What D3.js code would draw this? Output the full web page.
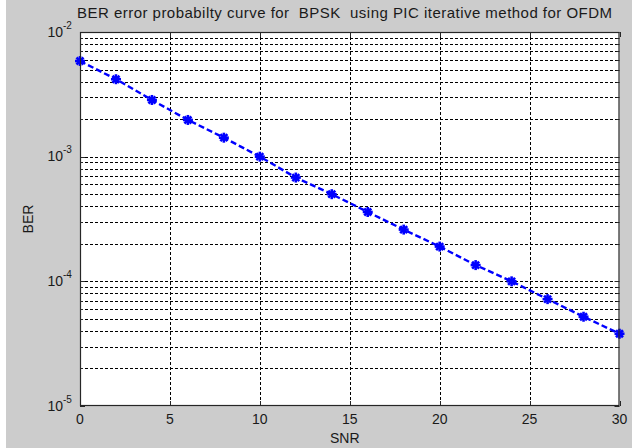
<!DOCTYPE html>
<html>
<head>
<meta charset="utf-8">
<script src="https://cdn.jsdelivr.net/npm/d3@7"></script>
<style>
  body { margin: 0; background: #fff; }
  svg { display: block; }
  text { font-family: Arial, "Liberation Sans", sans-serif; fill: #1a1a1a; white-space: pre; }
</style>
</head>
<body>
<div id="content"></div>
<script>
'use strict';

// data
var snr = [0, 2, 4, 6, 8, 10, 12, 14, 16, 18, 20, 22, 24, 26, 28, 30]
var ber = [5.85e-3, 4.18e-3, 2.85e-3, 1.97e-3, 1.42e-3, 1.0e-3, 6.8e-4, 5.0e-4,
    3.6e-4, 2.6e-4, 1.9e-4, 1.35e-4, 1.0e-4, 7.2e-5, 5.2e-5, 3.8e-5]
var xTicks = [0, 5, 10, 15, 20, 25, 30]
var yDecades = [-5, -4, -3, -2]
var title = 'BER error probabilty curve for  BPSK  using PIC iterative method for OFDM'

var W = 636, H = 448
var pLeft = 80, pRight = 619.5, pTop = 32, pBottom = 406

var svg = d3.select('#content').append('svg').attr('width', W).attr('height', H)

// figure background (thin white strips at the sides like the screenshot)
svg.append('rect').attr('x', 6).attr('y', 0).attr('width', W - 10).attr('height', H).style('fill', '#cccccc')

var x = d3.scaleLinear().domain([0, 30]).range([pLeft, pRight])
var y = d3.scaleLog().domain([1e-5, 1e-2]).range([pBottom, pTop])

svg.append('rect').attr('x', pLeft).attr('y', pTop).attr('width', pRight - pLeft).attr('height', pBottom - pTop)
    .style('fill', '#fff')

// minor + major y grid values
var yGrid = []
for (var d = -5; d < -2; d++) {
    for (var m = 1; m <= 9; m++) {
        yGrid.push(m * Math.pow(10, d))
    }
}
yGrid.push(1e-2)

var grid = svg.append('g').attr('class', 'grid')
grid.selectAll('.hg').data(yGrid.filter(function(v) { return v > 1.01e-5 && v < 0.99e-2 })).enter().append('line')
    .attr('x1', pLeft).attr('x2', pRight)
    .attr('y1', function(v) { return Math.round(y(v)) + 0.5 })
    .attr('y2', function(v) { return Math.round(y(v)) + 0.5 })
    .style('stroke', '#000').style('stroke-width', 1).style('stroke-dasharray', '3,2')
grid.selectAll('.vg').data(xTicks.slice(1, -1)).enter().append('line')
    .attr('y1', pTop).attr('y2', pBottom)
    .attr('x1', function(v) { return Math.round(x(v)) + 0.5 })
    .attr('x2', function(v) { return Math.round(x(v)) + 0.5 })
    .style('stroke', '#000').style('stroke-width', 1).style('stroke-dasharray', '3,2')

// ticks (inside, matlab style) on all four sides
var tk = svg.append('g').style('stroke', '#262626').style('stroke-width', 1)
xTicks.forEach(function(v) {
    var px = Math.round(x(v)) + 0.5
    tk.append('line').attr('x1', px).attr('x2', px).attr('y1', pBottom).attr('y2', pBottom - 5)
    tk.append('line').attr('x1', px).attr('x2', px).attr('y1', pTop).attr('y2', pTop + 5)
})
yGrid.forEach(function(v) {
    var py = Math.round(y(v)) + 0.5
    var len = (Math.abs(Math.log10(v) - Math.round(Math.log10(v))) < 1e-9) ? 5 : 3
    tk.append('line').attr('x1', pLeft).attr('x2', pLeft + len).attr('y1', py).attr('y2', py)
    tk.append('line').attr('x1', pRight).attr('x2', pRight - len).attr('y1', py).attr('y2', py)
})

// line + star markers
var line = d3.line().x(function(d, i) { return x(snr[i]) }).y(function(d) { return y(d) })
svg.append('path').datum(ber).attr('d', line)
    .style('fill', 'none').style('stroke', '#0000ff').style('stroke-width', 2.4).style('stroke-dasharray', '6,3')

var star = svg.selectAll('.star').data(ber).enter().append('g')
    .attr('transform', function(d, i) { return 'translate(' + x(snr[i]) + ',' + y(d) + ')' })
    .style('stroke', '#0000ff').style('stroke-width', 2.6)
star.append('line').attr('x1', -5).attr('x2', 5).attr('y1', 0).attr('y2', 0)
star.append('line').attr('x1', 0).attr('x2', 0).attr('y1', -5).attr('y2', 5)
star.append('line').attr('x1', -3.5).attr('x2', 3.5).attr('y1', -3.5).attr('y2', 3.5)
star.append('line').attr('x1', -3.5).attr('x2', 3.5).attr('y1', 3.5).attr('y2', -3.5)

// axes box
svg.append('rect').attr('x', pLeft + 0.5).attr('y', pTop + 0.5).attr('width', pRight - pLeft - 1).attr('height', pBottom - pTop - 1)
    .style('fill', 'none').style('stroke', '#262626').style('stroke-width', 1.2)

// x tick labels
svg.selectAll('.xl').data(xTicks).enter().append('text')
    .attr('x', function(v) { return x(v) })
    .attr('y', pBottom + 18)
    .attr('text-anchor', 'middle')
    .style('font-size', '14px')
    .text(function(v) { return v })

// y tick labels 10^k
var yl = svg.selectAll('.yl').data(yDecades).enter().append('g')
    .attr('transform', function(k) { return 'translate(' + (pLeft - 17) + ',' + (y(Math.pow(10, k)) + 4.5) + ')' })
yl.append('text').attr('text-anchor', 'end').style('font-size', '14px').text('10')
yl.append('text').attr('x', 0).attr('y', -8).style('font-size', '10px').text(function(k) { return '-' + Math.abs(k) })

// title and axis labels
svg.append('text').attr('x', 77).attr('y', 18)
    .attr('textLength', 535).attr('lengthAdjust', 'spacing')
    .style('font-size', '15px').text(title)
svg.append('text').attr('x', (pLeft + pRight) / 2 - 5).attr('y', pBottom + 37).attr('text-anchor', 'middle')
    .style('font-size', '14px').text('SNR')
svg.append('text').attr('transform', 'translate(33,' + ((pTop + pBottom) / 2) + ') rotate(-90)')
    .attr('text-anchor', 'middle').style('font-size', '14px').text('BER')
</script>
</body>
</html>
